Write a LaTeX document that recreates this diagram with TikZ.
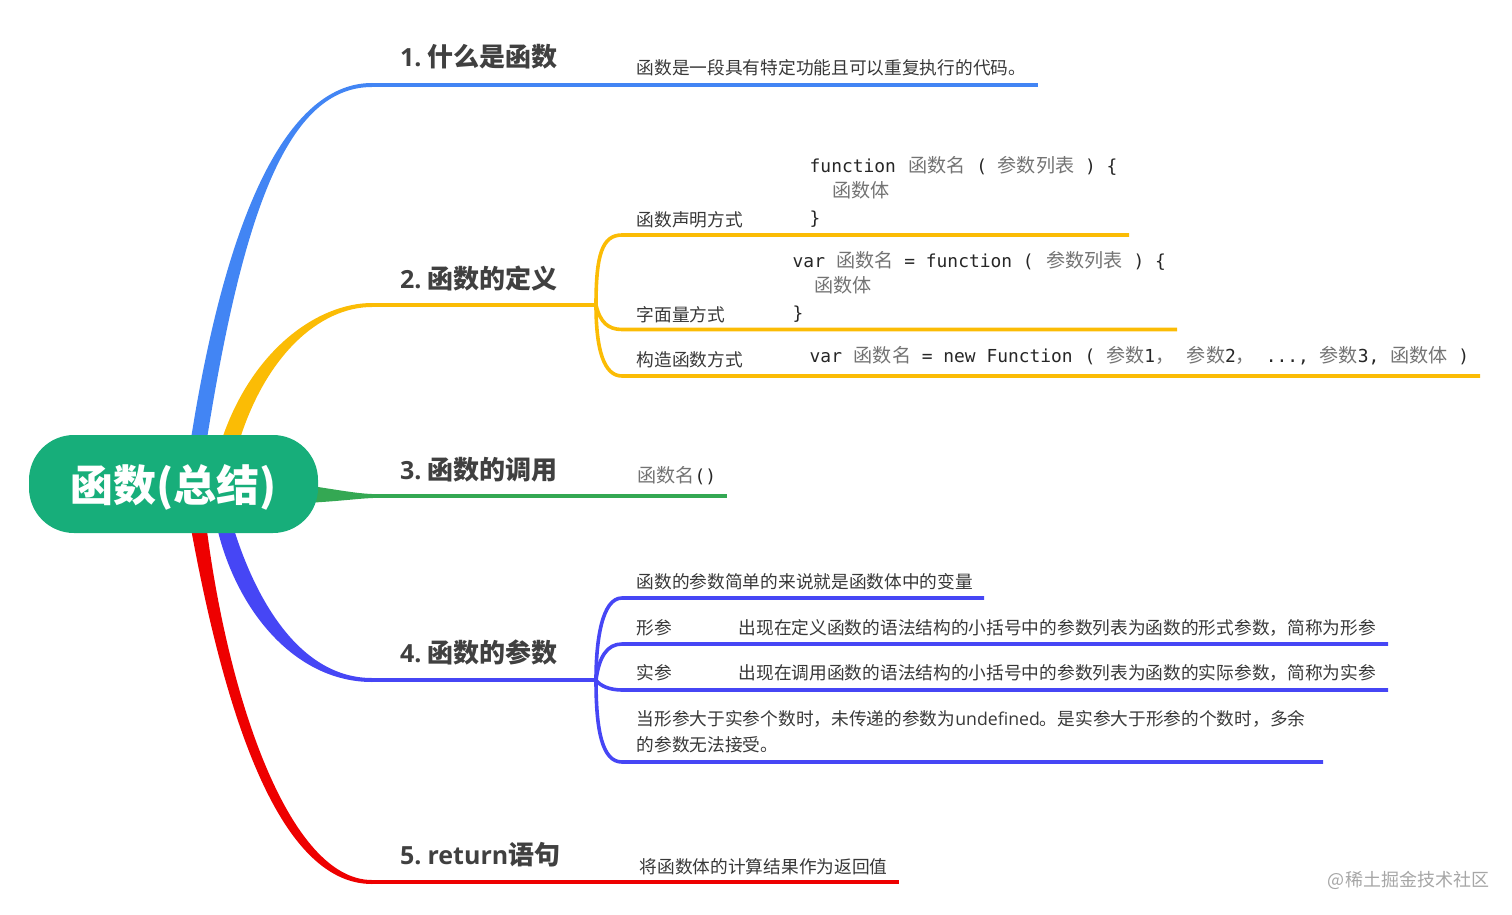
\documentclass[tikz,border=0pt]{standalone}
\usepackage{fontspec}
\setmainfont{Noto Sans CJK SC}
\newfontfamily\latfont{Open Sans}
\newfontfamily\monofont{DejaVu Sans Mono}
\newfontfamily\cjkfont{Noto Sans CJK SC}
\definecolor{gblue}{HTML}{4285F4}
\definecolor{gyellow}{HTML}{FBBC05}
\definecolor{ggreen}{HTML}{34A853}
\definecolor{gindigo}{HTML}{4646F5}
\definecolor{gred}{HTML}{EE0000}
\definecolor{rootgreen}{HTML}{17AE7A}
\newcommand{\zh}[1]{{\cjkfont\fontsize{19.1}{22}\selectfont\color{black!55}#1}}
\newcommand{\lt}[1]{{\latfont\fontsize{25}{30}\selectfont #1}}
\tikzset{
  rootbox/.style={fill=rootgreen,text=white,rounded corners=45pt,minimum width=289pt,minimum height=98pt,inner sep=0pt,font=\fontsize{43}{50}\selectfont\bfseries},
  topic/.style={anchor=base west,inner sep=0pt,text=black!75,font=\fontsize{26}{30}\selectfont\bfseries},
  leaf/.style={anchor=base west,inner sep=0pt,text=black!78,font=\fontsize{17.7}{26}\selectfont},
  codeline/.style={anchor=base west,inner sep=0pt,text=black!85,font=\monofont\fontsize{17.9}{22}\selectfont},
  wire/.style={line width=3.6pt,line cap=butt}
}
\begin{document}
\begin{tikzpicture}[x=1pt,y=-1pt]
\useasboundingbox (0,0) rectangle (1512,915);
% branch ends
\coordinate (e1) at (372,85);
\coordinate (e2) at (372,305);
\coordinate (e3) at (372,496);
\coordinate (e4) at (372,680);
\coordinate (e5) at (372,882);
\coordinate (hub2) at (596,305);
\coordinate (hub4) at (596,680);
\coordinate (u1) at (1038,85);
\coordinate (u3) at (727,496);
\coordinate (u5) at (899,882);
\coordinate (a1) at (622,235);
\coordinate (a1e) at (1129,235);
\coordinate (a2) at (622,329.5);
\coordinate (a2e) at (1177,329.5);
\coordinate (a3) at (622,376);
\coordinate (a3e) at (1480,376);
\coordinate (b1) at (622,598);
\coordinate (b1e) at (984,598);
\coordinate (b2) at (622,644);
\coordinate (b2e) at (1388,644);
\coordinate (b3) at (622,690);
\coordinate (b3e) at (1388,690);
\coordinate (b4) at (622,762);
\coordinate (b4e) at (1323,762);
% tapered main branches
\fill[gblue] (190,445) .. controls (228,200) and (292,83) .. (372,83) -- (372,87) .. controls (288,87) and (243,210) .. (206,445) -- cycle;
\fill[gyellow] (220,445) .. controls (250,350) and (318,303) .. (372,303) -- (372,307) .. controls (320,307) and (265,355) .. (238,445) -- cycle;
\fill[ggreen] (305,485) .. controls (345,491) and (360,494.2) .. (380,494.2) -- (380,497.8) .. controls (360,498) and (345,501) .. (305,503) -- cycle;
\fill[gindigo] (216,523) .. controls (235,610) and (295,682) .. (372,682) -- (372,678) .. controls (300,678) and (255,600) .. (232,523) -- cycle;
\fill[gred] (190,523) .. controls (222,700) and (275,884) .. (372,884) -- (372,880) .. controls (290,880) and (228,700) .. (206,523) -- cycle;
% straight parts
\draw[wire,gblue] (e1) -- (u1);
\draw[wire,gyellow] (e2) -- (hub2);
\draw[wire,ggreen] (e3) -- (u3);
\draw[wire,gindigo] (e4) -- (hub4);
\draw[wire,gred] (e5) -- (u5);
% yellow children
\draw[wire,gyellow] (hub2) .. controls (596,255) and (602,235) .. (a1) -- (a1e);
\draw[wire,gyellow] (hub2) .. controls (600,322) and (608,329.5) .. (a2) -- (a2e);
\draw[wire,gyellow] (hub2) .. controls (596,350) and (604,376) .. (a3) -- (a3e);
% indigo children
\draw[wire,gindigo] (hub4) .. controls (596,640) and (602,598) .. (b1) -- (b1e);
\draw[wire,gindigo] (hub4) .. controls (599,657) and (607,644) .. (b2) -- (b2e);
\draw[wire,gindigo] (hub4) .. controls (600,686) and (610,690) .. (b3) -- (b3e);
\draw[wire,gindigo] (hub4) .. controls (596,730) and (602,762) .. (b4) -- (b4e);
% root
\node[rootbox] (root) at (173.5,484) {\raisebox{-17pt}[0pt][0pt]{函数(总结)}};
% topics
\node[topic] (t1) at (400,66.5) {\lt{1.}\hspace{6pt}什么是函数};
\node[topic] (t2) at (400,288.5) {\lt{2.}\hspace{6pt}函数的定义};
\node[topic] (t3) at (400,479.5) {\lt{3.}\hspace{6pt}函数的调用};
\node[topic] (t4) at (400,662.5) {\lt{4.}\hspace{6pt}函数的参数};
\node[topic] (t5) at (400,864.5) {\lt{5.}\hspace{6pt}\lt{return}语句};
% leaves
\node[leaf] (l1) at (636.5,75) {函数是一段具有特定功能且可以重复执行的代码。};
\node[leaf] (l21) at (636.5,226.5) {函数声明方式};
\node[leaf] (l22) at (636.5,321.5) {字面量方式};
\node[leaf] (l23) at (636.5,366.5) {构造函数方式};
\node[leaf] (l41) at (636.5,588.5) {函数的参数简单的来说就是函数体中的变量};
\node[leaf] (l42) at (636.5,634.5) {形参};
\node[leaf] (l42b) at (738.5,634.5) {出现在定义函数的语法结构的小括号中的参数列表为函数的形式参数，简称为形参};
\node[leaf] (l43) at (636.5,679.5) {实参};
\node[leaf] (l43b) at (738.5,679.5) {出现在调用函数的语法结构的小括号中的参数列表为函数的实际参数，简称为实参};
\node[leaf,anchor=west,align=left] (l44) at (636.5,732) {当形参大于实参个数时，未传递的参数为{\latfont undefined}。是实参大于形参的个数时，多余\\的参数无法接受。};
\node[leaf] (l5) at (639.5,873.5) {将函数体的计算结果作为返回值};
% code
\node[codeline] (c11) at (809.5,172.5) {function \hspace{1.5pt}\zh{函数名} ( \zh{参数列表} ) \{};
\node[codeline] (c12) at (832,197.5) {\zh{函数体}};
\node[codeline] (c13) at (809.5,224) {\}};
\node[codeline] (c21) at (792.5,267.5) {var \hspace{0.5pt}\zh{函数名} = function ( \hspace{2pt}\zh{参数列表} ) \{};
\node[codeline] (c22) at (814,292.5) {\zh{函数体}};
\node[codeline] (c23) at (792.5,319) {\}};
\node[codeline] (c31) at (809.5,362.5) {var \hspace{1pt}\zh{函数名} = new Function \hspace{1pt}( \zh{参数}1\zh{，}\hspace{2pt} \zh{参数}2\zh{，} ..., \zh{参数}3, \zh{函数体} )};
\node[codeline] (c4) at (637,482.5) {\zh{函数名}()};
% watermark
\node[anchor=base west,inner sep=0pt,text=black!35,font=\fontsize{18}{24}\selectfont] (wm) at (1327,886.5) {@\hspace{1pt}稀土掘金技术社区};
\end{tikzpicture}
\end{document}
